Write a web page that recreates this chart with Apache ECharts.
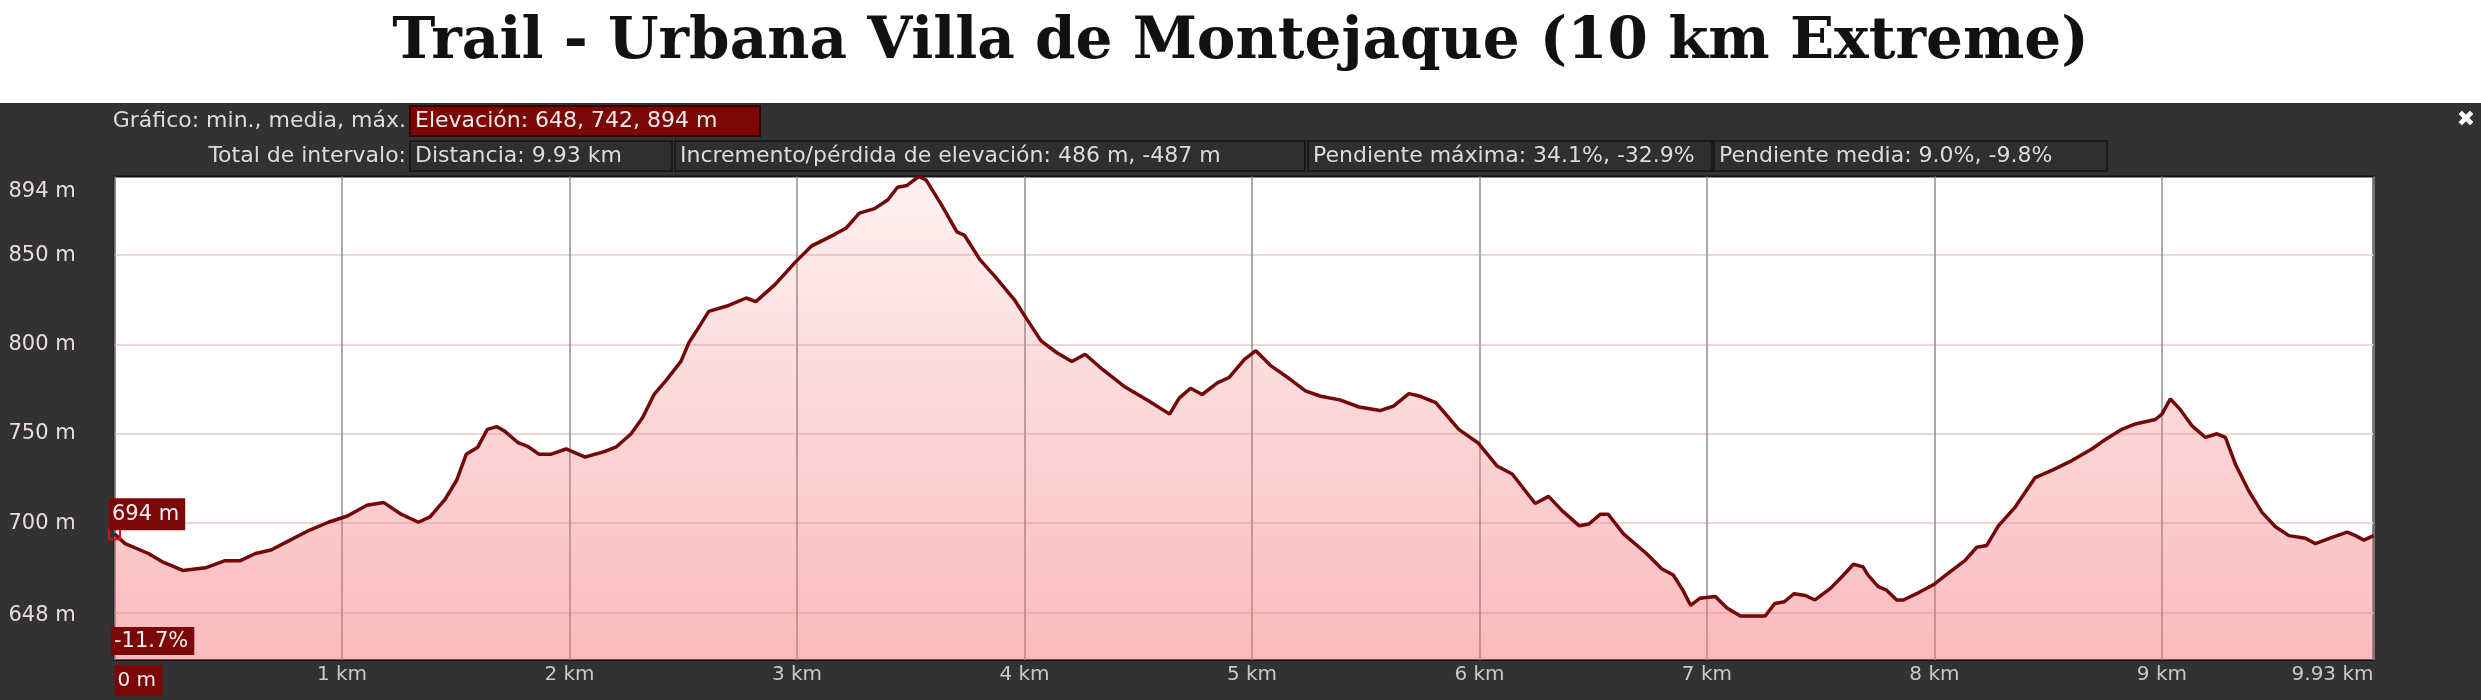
<!DOCTYPE html>
<html><head><meta charset="utf-8">
<script src="https://cdn.jsdelivr.net/npm/echarts@6/dist/echarts.min.js"></script>
<style>
html,body{margin:0;padding:0;background:#fff;}
#chart{width:2481px;height:700px;background:linear-gradient(to bottom,#ffffff 0,#ffffff 103px,#323232 103px,#323232 100%);}
</style></head><body><div id="chart"></div>
<script>
// ---- data ----
const distanceKm = [0,0.047,0.149,0.216,0.30,0.40,0.486,0.553,0.62,0.688,0.772,0.856,0.94,1.024,1.109,1.184,1.26,1.336,1.387,1.454,1.504,1.546,1.597,1.639,1.681,1.715,1.774,1.816,1.867,1.917,1.985,2.069,2.153,2.204,2.271,2.321,2.372,2.422,2.49,2.525,2.558,2.612,2.692,2.777,2.819,2.903,2.996,3.063,3.164,3.215,3.274,3.341,3.4,3.442,3.484,3.535,3.568,3.636,3.703,3.737,3.804,3.871,3.956,4.006,4.073,4.141,4.208,4.267,4.343,4.444,4.545,4.638,4.68,4.73,4.781,4.848,4.899,4.966,5.017,5.084,5.168,5.235,5.302,5.386,5.471,5.563,5.622,5.69,5.74,5.808,5.909,5.993,6.077,6.144,6.245,6.304,6.363,6.439,6.481,6.532,6.566,6.633,6.734,6.801,6.852,6.894,6.928,6.97,7.037,7.088,7.147,7.256,7.298,7.34,7.383,7.433,7.475,7.543,7.593,7.644,7.686,7.709,7.753,7.79,7.834,7.863,7.929,7.995,8.061,8.134,8.186,8.23,8.281,8.355,8.443,8.516,8.604,8.692,8.736,8.824,8.883,8.971,9.0,9.037,9.081,9.132,9.191,9.242,9.279,9.323,9.382,9.44,9.499,9.558,9.631,9.675,9.748,9.814,9.851,9.888,9.93];
const elevationM = [694,688.5,683,678,673.5,675,679,679,683,685,690.5,696,700.5,704,710,711.5,705,700.5,703.5,713.5,724,738.5,742.5,752.5,754,751.5,745,743,738.5,738.5,741.5,737,740,742.5,750,759,772,779.5,790.5,801,807.5,818.5,821.5,826,824,833.5,846.5,855,861.5,865,873.5,876,881,888,889,894,892,878,863,861,847.5,838,825,815,802,795.5,790.5,794.5,786,776,768.5,761,770,775.5,772,778.5,781.5,791.5,796.5,788,780.5,774,771,769,765,763,765.5,772.5,771,767.5,752.5,745,732,727.5,711,715,707,698.5,699.5,705,705,694,683,674.5,671,662.5,654,658,659,652.5,648,648,655,656,660.5,659.5,657,663.5,670,677,675.5,670.8,664.5,662.5,657,657,661,665.5,672,679,686.5,687.5,698.5,709,725.5,729.5,735,741.5,745.5,752.5,755.5,758,761,769.5,763.5,754.5,748,750,748,733,718,706,698,693,691.5,688.5,692,695,693,690.5,693];
const xTickKm = [0,1,2,3,4,5,6,7,8,9,9.93];
const yTickLabelsM = [648,700,750,800,850,894];
const yGridM = [650,700,750,800,850];
const yRange = [623.4, 894];

const titleText = 'Trail - Urbana Villa de Montejaque (10 km Extreme)';
const summaryLabel = 'Gráfico: min., media, máx.';
const summaryValue = 'Elevación: 648, 742, 894 m';
const intervalLabel = 'Total de intervalo:';
const intervalStats = ['Distancia: 9.93 km','Incremento/pérdida de elevación: 486 m, -487 m','Pendiente máxima: 34.1%, -32.9%','Pendiente media: 9.0%, -9.8%'];
const startGrade = '-11.7%';

// ---- styling / layout ----
const SANS = '"DejaVu Sans", "Liberation Sans", sans-serif';
const HDR = '22px ' + SANS;
const BOX_RED = '#7c0707';
const statBoxes = [[410,262],[675,630],[1308,404],[1714,393]];

const chart = echarts.init(document.getElementById('chart'), null, {renderer:'canvas'});

const graphic = [
  {type:'text', x:406, y:121, z:100, style:{text:summaryLabel, fill:'#dcdcdc', font:HDR, align:'right', verticalAlign:'middle'}},
  {type:'rect', z:100, shape:{x:410,y:106,width:350,height:30}, style:{fill:BOX_RED, stroke:'#3a0000', lineWidth:2}},
  {type:'text', x:415, y:121, z:101, style:{text:summaryValue, fill:'#ececec', font:HDR, align:'left', verticalAlign:'middle'}},
  {type:'text', x:406, y:156, z:100, style:{text:intervalLabel, fill:'#dcdcdc', font:HDR, align:'right', verticalAlign:'middle'}},
  {type:'text', x:2466, y:120, z:100, style:{text:'✖', fill:'#ffffff', font:'bold 22px '+SANS, align:'center', verticalAlign:'middle'}},
  {type:'text', x:111, y:627, z:100, style:{text:startGrade, fill:'#f2f2f2', font:'21px '+SANS, align:'left', verticalAlign:'top', backgroundColor:BOX_RED, padding:[4,6,3,3]}}
];
intervalStats.forEach((t,i)=>{
  const b = statBoxes[i];
  graphic.push({type:'rect', z:100, shape:{x:b[0],y:141,width:b[1],height:30}, style:{fill:'#2f2f2f', stroke:'#1a1a1a', lineWidth:2}});
  graphic.push({type:'text', x:b[0]+5, y:156, z:101, style:{text:t, fill:'#dcdcdc', font:HDR, align:'left', verticalAlign:'middle'}});
});

const xMax = xTickKm[xTickKm.length-1];

chart.setOption({
  animation:false,
  backgroundColor:'transparent',
  title:{text:titleText, left:'center', top:9,
    textStyle:{fontFamily:'"DejaVu Serif", serif', fontWeight:'bold', fontSize:58, color:'#111'}},
  grid:{left:114.5, right:107.5, top:176.5, bottom:40, show:true, backgroundColor:'#ffffff', borderColor:'#141414', borderWidth:2},
  xAxis:{type:'value', min:0, max:xMax, interval:1,
    axisLine:{show:false}, axisTick:{show:false},
    splitLine:{show:true, lineStyle:{color:'#8e8e8e', width:1.5}},
    axisLabel:{customValues:xTickKm, margin:5, color:'#c9c9c9', fontSize:20, fontFamily:SANS,
      alignMinLabel:'left', alignMaxLabel:'right',
      formatter:(v)=> v===0 ? '{red|0 m}' : (v===xMax ? v.toFixed(2)+' km' : v+' km'),
      rich:{red:{backgroundColor:BOX_RED, color:'#f2f2f2', fontSize:20, fontFamily:SANS, padding:[6,6,5,3]}}}},
  yAxis:{type:'value', min:yRange[0], max:yRange[1],
    axisLine:{show:false},
    axisTick:{show:false, customValues:yGridM},
    splitLine:{show:true, lineStyle:{color:'#efd6d6', width:2}},
    axisLabel:{customValues:yTickLabelsM, align:'left', margin:106, color:'#eadcdc', fontSize:21, fontFamily:SANS,
      formatter:(v)=> v===yRange[1] ? '{top|'+v+' m}' : v+' m',
      rich:{top:{color:'#eadcdc', fontSize:21, fontFamily:SANS, padding:[30,0,0,0]}}}},
  series:[
    {type:'line', data:distanceKm.map((d,i)=>[d, elevationM[i]]), showSymbol:false, z:3,
      lineStyle:{color:'#740707', width:3.5},
      areaStyle:{color:{type:'linear', x:0, y:0, x2:0, y2:1, colorStops:[
        {offset:0, color:'rgba(245,120,125,0.15)'},
        {offset:1, color:'rgba(245,115,120,0.7)'}]}}},
    {type:'scatter', data:[[distanceKm[0], elevationM[0]]], symbol:'rect', symbolSize:11, clip:false, z:5,
      itemStyle:{color:'rgba(0,0,0,0)', borderColor:'#d01414', borderWidth:2, opacity:1},
      emphasis:{disabled:true},
      label:{show:true, formatter:(p)=>p.value[1]+' m', position:[1,3], align:'left', verticalAlign:'bottom',
        backgroundColor:BOX_RED, padding:[6,6,5,3], color:'#f2f2f2', fontSize:21, fontFamily:SANS, opacity:1}}
  ],
  graphic: graphic
});
</script></body></html>
